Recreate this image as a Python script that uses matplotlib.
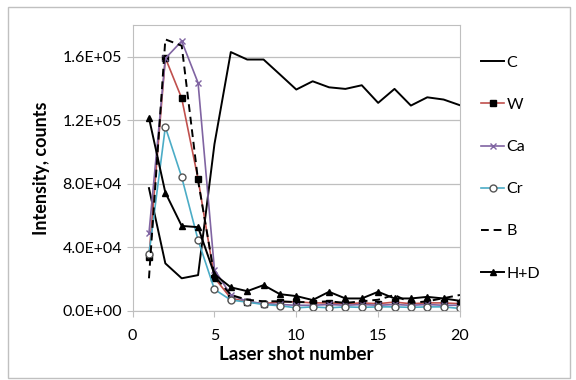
import matplotlib
matplotlib.use("Agg")
import matplotlib.pyplot as plt
from matplotlib.patches import Rectangle

shots = list(range(1, 21))

c_vals = [77300, 29900, 20500, 22500, 105000, 163000, 158300, 158300, 148900, 139400,
          144600, 140800, 139800, 142100, 131000, 139800, 129300, 134500, 133100, 129500]
w_vals = [34100, 159400, 133900, 83000, 20800, 8000, 5700, 4500, 5700, 5700,
          5000, 5000, 4500, 5000, 4500, 5500, 4500, 5000, 5000, 4500]
ca_vals = [48900, 159000, 169900, 143600, 26000, 10000, 6000, 4500, 4000, 3500,
           3500, 4000, 3500, 4000, 3500, 4000, 3500, 4000, 3500, 3500]
cr_vals = [35600, 115800, 84200, 44600, 13500, 6800, 5500, 4000, 3200, 1900,
           2500, 1900, 2500, 2200, 2500, 2500, 2200, 2500, 2500, 1500]
b_vals = [20500, 171000, 167000, 82000, 22000, 10000, 7000, 6000, 6000, 5500,
          5500, 6000, 5000, 6000, 7000, 10000, 5000, 6000, 8000, 10000]
hd_vals = [121500, 74500, 53500, 52700, 23000, 14800, 12400, 16200, 10500, 9300,
           6800, 12000, 7800, 7800, 12000, 7800, 7800, 8800, 7800, 6300]

plt.rcParams["font.family"] = ["Lato", "DejaVu Sans"]

fig = plt.figure(figsize=(5.76, 3.8), dpi=100)
ax = fig.add_axes([0.2302, 0.182, 0.5684, 0.752])

# outer chart border
fig.patches.append(Rectangle((8 / 576, 2 / 380), 562 / 576, 371 / 380, transform=fig.transFigure,
                             fill=False, edgecolor="#c0c0c0", linewidth=1.0))

ax.plot(shots, c_vals, color="black", lw=1.4, label="C")
ax.plot(shots, w_vals, color="#c0504d", lw=1.2, marker="s", ms=5, mfc="black", mec="black", label="W")
ax.plot(shots, ca_vals, color="#8064a2", lw=1.2, marker="x", ms=4, mec="#8064a2", label="Ca")
ax.plot(shots, cr_vals, color="#4bacc6", lw=1.2, marker="o", ms=5, mfc="white", mec="#555555", label="Cr")
ax.plot(shots, b_vals, color="black", lw=1.4, ls=(0, (4, 2.5)), label="B")
ax.plot(shots, hd_vals, color="black", lw=1.4, marker="^", ms=5, label="H+D")

ax.set_xlim(0, 20)
ax.set_ylim(0, 180000)
ax.set_xticks([0, 5, 10, 15, 20])
ax.set_yticks([0, 40000, 80000, 120000, 160000])
ax.set_yticklabels(["0.0E+00", "4.0E+04", "8.0E+04", "1.2E+05", "1.6E+05"])
ax.yaxis.grid(True, color="#bfbfbf", lw=0.9)
ax.set_axisbelow(True)
for s in ax.spines.values():
    s.set_color("#bfbfbf")
ax.tick_params(axis="both", colors="#bfbfbf", labelcolor="black", labelsize=11.5, length=4, direction="out")
ax.tick_params(axis="x", pad=9)

ax.set_xlabel("Laser shot number", fontsize=13.5, fontweight="bold", labelpad=2)
ax.set_ylabel("Intensity, counts", fontsize=13, fontweight="bold", labelpad=9)

ax.legend(loc="upper left", bbox_to_anchor=(1.045, 0.915), frameon=False, fontsize=11.5,
          handlelength=1.45, handletextpad=0.15, labelspacing=1.75, borderaxespad=0)

fig.savefig("out.png", dpi=100)
